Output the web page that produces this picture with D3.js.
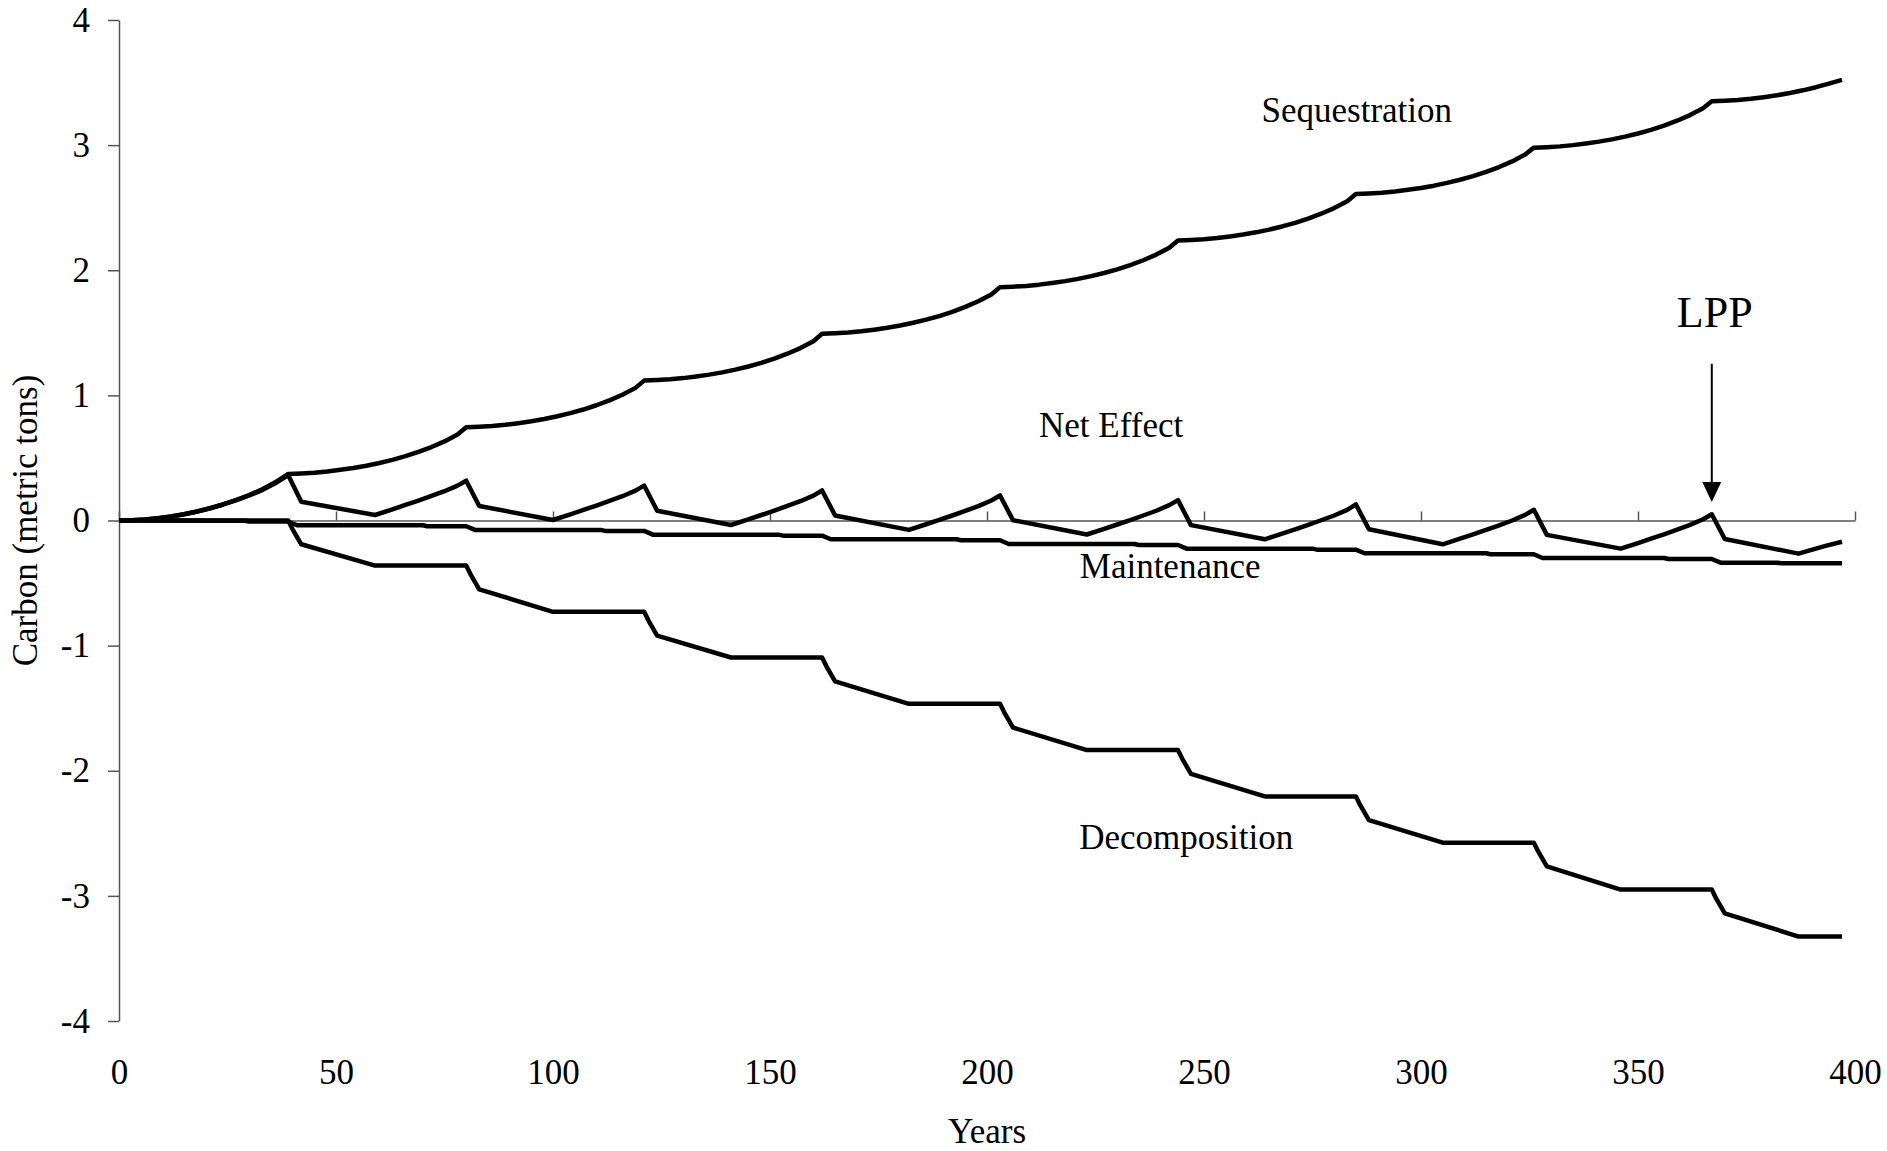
<!DOCTYPE html>
<html lang="en">
<head>
	<meta charset="UTF-8">
	<title>Carbon balance</title>
	<script src="https://cdn.jsdelivr.net/npm/d3@7"></script>
	<style>
		html,body{
			margin:0;
			padding:0;
			background:#fff;
		}
		svg{
			display:block;
		}
		text{
			font-family:"Liberation Serif","Times New Roman",serif;
			fill:#000;
		}
	</style>
</head>
<body>
	<svg id="svg" width="1887" height="1151"></svg>
	<script>
		// [year, metric tons C]
		var sequestration = [
			[0,0],[3,0.003],[6,0.009],[9,0.019],[12,0.032],[15,0.05],[18,0.072],[21,0.098],[24,0.128],[27,0.163],[30,0.203],[33,0.25],[36,0.305],[39,0.372],
			[42,0.376],[45,0.382],[48,0.392],[51,0.405],[54,0.42],[57,0.438],[60,0.46],[63,0.485],[66,0.514],[69,0.548],[72,0.587],[75,0.632],[78,0.687],[80,0.745],
			[83,0.749],[86,0.755],[89,0.765],[92,0.778],[95,0.793],[98,0.811],[101,0.833],[104,0.858],[107,0.887],[110,0.921],[113,0.96],[116,1.005],[119,1.06],[121,1.118],
			[124,1.122],[127,1.128],[130,1.138],[133,1.151],[136,1.166],[139,1.184],[142,1.206],[145,1.231],[148,1.26],[151,1.294],[154,1.333],[157,1.378],[160,1.433],[162,1.492],
			[165,1.496],[168,1.502],[171,1.512],[174,1.525],[177,1.54],[180,1.558],[183,1.58],[186,1.605],[189,1.634],[192,1.668],[195,1.707],[198,1.752],[201,1.807],[203,1.865],
			[206,1.869],[209,1.875],[212,1.885],[215,1.898],[218,1.913],[221,1.931],[224,1.953],[227,1.978],[230,2.007],[233,2.041],[236,2.08],[239,2.125],[242,2.18],[244,2.237],
			[247,2.241],[250,2.247],[253,2.257],[256,2.27],[259,2.285],[262,2.303],[265,2.325],[268,2.35],[271,2.379],[274,2.413],[277,2.452],[280,2.497],[283,2.552],[285,2.61],
			[288,2.614],[291,2.62],[294,2.63],[297,2.643],[300,2.658],[303,2.676],[306,2.698],[309,2.723],[312,2.752],[315,2.786],[318,2.825],[321,2.87],[324,2.925],[326,2.98],
			[329,2.984],[332,2.99],[335,3.0],[338,3.013],[341,3.028],[344,3.046],[347,3.068],[350,3.093],[353,3.122],[356,3.156],[359,3.195],[362,3.24],[365,3.295],[367,3.35],
			[370,3.354],[373,3.36],[376,3.37],[379,3.383],[382,3.398],[385,3.416],[388,3.438],[391,3.463],[394,3.492],[397,3.522]
		];
		var netEffect = [
			[0,0],[3,0.003],[6,0.009],[9,0.019],[12,0.032],[15,0.05],[18,0.072],[21,0.098],[24,0.128],[27,0.163],[30,0.2],[33,0.243],[36,0.297],[39,0.362],
			[42,0.15],[59,0.044],[63,0.089],[66,0.124],[69,0.159],[72,0.196],[75,0.234],[78,0.279],[80,0.318],
			[83,0.116],[100,0.004],[104,0.049],[107,0.084],[110,0.119],[113,0.156],[116,0.194],[119,0.239],[121,0.279],
			[124,0.078],[141,-0.036],[145,0.009],[148,0.044],[151,0.079],[154,0.116],[157,0.154],[160,0.199],[162,0.24],
			[165,0.04],[182,-0.075],[186,-0.03],[189,0.005],[192,0.04],[195,0.077],[198,0.115],[201,0.16],[203,0.2],
			[206,0.002],[223,-0.112],[227,-0.067],[230,-0.032],[233,0.003],[236,0.04],[239,0.078],[242,0.123],[244,0.163],
			[247,-0.037],[264,-0.15],[268,-0.105],[271,-0.07],[274,-0.035],[277,0.002],[280,0.04],[283,0.085],[285,0.128],
			[288,-0.07],[305,-0.19],[309,-0.145],[312,-0.11],[315,-0.075],[318,-0.038],[321,0.0],[324,0.045],[326,0.086],
			[329,-0.115],[346,-0.225],[350,-0.18],[353,-0.145],[356,-0.11],[359,-0.073],[362,-0.035],[365,0.01],[367,0.05],
			[370,-0.148],[387,-0.265],[390,-0.235],[393,-0.205],[397,-0.17]
		];
		var maintenance = [
			[0,0],[29,-0.002],[30,-0.008],[39,-0.008],[41,-0.038],[70,-0.038],[71,-0.046],[80,-0.046],[82,-0.075],
			[111,-0.075],[112,-0.083],[121,-0.083],[123,-0.113],[152,-0.113],[153,-0.121],[162,-0.121],[164,-0.15],
			[193,-0.15],[194,-0.158],[203,-0.158],[205,-0.188],[234,-0.188],[235,-0.196],[244,-0.196],[246,-0.225],
			[275,-0.225],[276,-0.233],[285,-0.233],[287,-0.262],[315,-0.262],[316,-0.27],[326,-0.27],[328,-0.3],
			[356,-0.3],[357,-0.308],[367,-0.308],[369,-0.337],[382,-0.337],[383,-0.342],[397,-0.342]
		];
		var decomposition = [
			[0,0],[39,0],[40,-0.07],[42,-0.19],[59,-0.36],[80,-0.36],[81,-0.43],[83,-0.55],[100,-0.73],
			[121,-0.73],[122,-0.8],[124,-0.92],[141,-1.095],[162,-1.095],[163,-1.165],[165,-1.285],[182,-1.465],
			[203,-1.465],[204,-1.535],[206,-1.655],[223,-1.835],[244,-1.835],[245,-1.905],[247,-2.025],[264,-2.205],
			[285,-2.205],[286,-2.275],[288,-2.395],[305,-2.575],[326,-2.575],[327,-2.645],[329,-2.765],[346,-2.95],
			[367,-2.95],[368,-3.02],[370,-3.14],[387,-3.325],[397,-3.325]
		];

		var xTicks = [0,50,100,150,200,250,300,350,400];
		var yTicks = [-4,-3,-2,-1,0,1,2,3,4];

		// series names placed in data units
		var seriesLabels = [
			{text:"Sequestration", year:285.2, value:3.185},
			{text:"Net Effect", year:228.6, value:0.667},
			{text:"Maintenance", year:242.2, value:-0.459},
			{text:"Decomposition", year:245.9, value:-2.626}
		];
		var lpp = {text:"LPP", year:367, textValue:1.547, from:1.253, to:0.148};

		var svg = d3.select("#svg");

		var x = d3.scaleLinear().domain([0,400]).range([119,1855]);
		var y = d3.scaleLinear().domain([-4,4]).range([1021,20]);

		// y axis
		var yAxis = svg.append("g")
			.attr("transform","translate("+x(0)+",0)")
			.call(d3.axisLeft(y).tickValues(yTicks).tickFormat(d=>String(d))
				.tickSize(11).tickSizeOuter(0).tickPadding(18))
		yAxis.selectAll("path,line").attr("stroke","#555").attr("stroke-width",1.5)
		yAxis.selectAll("text").attr("font-size",35).attr("font-family",null)

		// horizontal axis at zero, ticks pointing up
		var zeroAxis = svg.append("g")
			.attr("transform","translate(0,"+y(0)+")")
			.call(d3.axisTop(x).tickValues(xTicks).tickFormat(()=>"")
				.tickSizeInner(9).tickSizeOuter(0))
		zeroAxis.selectAll("path,line").attr("stroke","#555").attr("stroke-width",1.5)

		// year labels sit along the bottom
		var xLabels = svg.append("g")
			.attr("transform","translate(0,1059)")
			.call(d3.axisBottom(x).tickValues(xTicks).tickSize(0).tickPadding(0))
		xLabels.select(".domain").remove()
		xLabels.selectAll("text").attr("font-size",35).attr("font-family",null)

		svg.append("text")
			.attr("transform","rotate(-90)")
			.attr("x",-y(0))
			.attr("y",37)
			.attr("text-anchor","middle")
			.attr("font-size",35)
			.text("Carbon (metric tons)")

		svg.append("text")
			.attr("x",x(200))
			.attr("y",1143)
			.attr("text-anchor","middle")
			.attr("font-size",35)
			.text("Years")

		var line = d3.line()
			.x(d=>x(d[0]))
			.y(d=>y(d[1]))

		var series = [decomposition, maintenance, netEffect, sequestration];
		svg.append("g")
			.selectAll("path")
			.data(series)
			.enter().append("path")
			.attr("d",line)
			.attr("fill","none")
			.attr("stroke","#000")
			.attr("stroke-width",4.5)
			.attr("stroke-linejoin","round")

		svg.append("g")
			.selectAll("text")
			.data(seriesLabels)
			.enter().append("text")
			.attr("x",d=>x(d.year))
			.attr("y",d=>y(d.value))
			.attr("text-anchor","middle")
			.attr("font-size",35)
			.text(d=>d.text)

		// LPP marker
		svg.append("text")
			.attr("x",x(lpp.year)+3)
			.attr("y",y(lpp.textValue))
			.attr("text-anchor","middle")
			.attr("font-size",44)
			.text(lpp.text)
		var headTop = y(lpp.to)-20;
		svg.append("line")
			.attr("x1",x(lpp.year)).attr("x2",x(lpp.year))
			.attr("y1",y(lpp.from)).attr("y2",headTop)
			.attr("stroke","#000")
			.attr("stroke-width",2)
		svg.append("path")
			.attr("d",d3.line()([[x(lpp.year)-9.5,headTop],[x(lpp.year)+9.5,headTop],[x(lpp.year),y(lpp.to)]])+"Z")
			.attr("fill","#000")
	</script>
</body>
</html>
